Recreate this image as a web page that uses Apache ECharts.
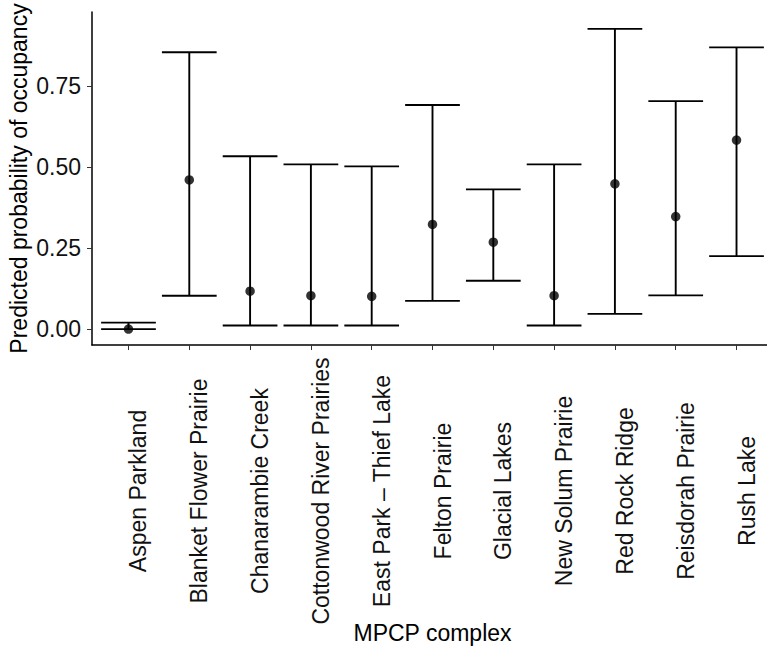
<!DOCTYPE html>
<html>
<head>
<meta charset="utf-8">
<script src="https://cdn.jsdelivr.net/npm/echarts@6/dist/echarts.min.js"></script>
<style>html,body{margin:0;padding:0;background:#fff}#c{width:767px;height:651px}</style>
</head>
<body>
<div id="c"></div>
<script>
const categories = ["Aspen Parkland","Blanket Flower Prairie","Chanarambie Creek","Cottonwood River Prairies","East Park \u2013 Thief Lake","Felton Prairie","Glacial Lakes","New Solum Prairie","Red Rock Ridge","Reisdorah Prairie","Rush Lake"];
const estimate = [0.00, 0.460, 0.117, 0.103, 0.101, 0.323, 0.268, 0.103, 0.448, 0.347, 0.583];
const lower    = [0.00, 0.103, 0.011, 0.011, 0.011, 0.087, 0.149, 0.011, 0.047, 0.104, 0.225];
const upper    = [0.020, 0.854, 0.533, 0.508, 0.502, 0.691, 0.431, 0.508, 0.926, 0.703, 0.869];
const yTicks = [0, 0.25, 0.5, 0.75];

const positions = categories.map((c, i) => i + 1);
const barData = positions.map((p, i) => [p, lower[i], upper[i]]);
const pointData = positions.map((p, i) => [p, estimate[i]]);

const FONT = 'Liberation Sans';
const chart = echarts.init(document.getElementById('c'), null, {renderer: 'svg'});
chart.setOption({
  animation: false,
  backgroundColor: '#fff',
  grid: {left: 92, top: 12, width: 681, height: 333, containLabel: false, outerBoundsMode: 'none'},
  xAxis: {
    type: 'value', min: 0.4, max: 11.6,
    name: 'MPCP complex', nameLocation: 'middle', nameGap: 276, nameMoveOverlap: false,
    nameTextStyle: {fontFamily: FONT, fontSize: 23, color: '#000'},
    axisLine: {show: true, onZero: false, lineStyle: {color: '#000', width: 1.5}},
    axisTick: {show: true, length: 5, customValues: positions, lineStyle: {color: '#333', width: 1}},
    splitLine: {show: false},
    axisLabel: {
      customValues: positions, rotate: 90, align: 'center', verticalAlign: 'top', lineHeight: 20,
      margin: 146, fontFamily: FONT, fontSize: 23, color: '#111',
      formatter: v => categories[Math.round(v) - 1]
    }
  },
  yAxis: {
    type: 'value', min: -0.049, max: 0.978,
    name: 'Predicted probability of occupancy', nameLocation: 'middle', nameGap: 62, nameMoveOverlap: false,
    nameTextStyle: {fontFamily: FONT, fontSize: 23, color: '#000'},
    axisLine: {show: true, onZero: false, lineStyle: {color: '#000', width: 1.5}},
    axisTick: {show: true, length: 5, customValues: yTicks, lineStyle: {color: '#333', width: 1}},
    splitLine: {show: false},
    axisLabel: {customValues: yTicks, margin: 11, fontFamily: FONT, fontSize: 23, color: '#111',
      formatter: v => v.toFixed(2)}
  },
  series: [
    {
      type: 'custom',
      data: barData,
      clip: false,
      renderItem: function (params, api) {
        const x = api.value(0), lo = api.value(1), hi = api.value(2);
        const pLo = api.coord([x, lo]), pHi = api.coord([x, hi]);
        const half = (api.coord([x + 0.45, lo])[0] - pLo[0]);
        const style = {stroke: '#000', lineWidth: 1.9};
        return {type: 'group', children: [
          {type: 'line', shape: {x1: pLo[0], y1: pLo[1], x2: pHi[0], y2: pHi[1]}, style},
          {type: 'line', shape: {x1: pLo[0] - half, y1: pLo[1], x2: pLo[0] + half, y2: pLo[1]}, style},
          {type: 'line', shape: {x1: pHi[0] - half, y1: pHi[1], x2: pHi[0] + half, y2: pHi[1]}, style}
        ]};
      }
    },
    {
      type: 'scatter', data: pointData, symbol: 'circle', symbolSize: 9.5,
      itemStyle: {color: '#000'}, z: 5
    }
  ]
});
</script>
</body>
</html>
